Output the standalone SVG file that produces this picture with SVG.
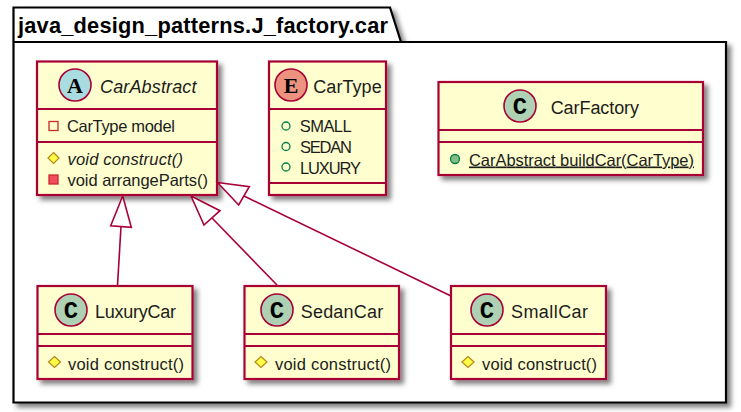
<svg xmlns="http://www.w3.org/2000/svg" width="741" height="412" viewBox="0 0 741 412">
<style>
text{font-family:"Liberation Sans",Arial,sans-serif;font-size:16.500px;fill:#1c1c1c}
.t{font-size:18px}
.box{fill:#fefece;stroke:#a80036;stroke-width:2.2;filter:url(#sh)}
.sep{stroke:#a80036;stroke-width:2;fill:none}
.circ{stroke:#a80036;stroke-width:1.6}
.glyph{font-family:"Liberation Mono",monospace;font-weight:bold;font-size:24px;fill:#000;text-anchor:middle}
.slab{font-family:"Liberation Serif",serif;font-size:22px}
.it{font-style:italic}
.con{stroke:#a80036;stroke-width:1.6;fill:none}
.head{stroke:#a80036;stroke-width:1.6;fill:#fff}
</style>
<defs>
<filter id="sh" x="-10%" y="-10%" width="125%" height="130%">
<feDropShadow dx="4" dy="4" stdDeviation="2.5" flood-color="#000" flood-opacity="0.5"/>
</filter>
</defs>
<rect width="741" height="412" fill="#fff"/>
<g id="package">
<path d="M13.500 42V7.500H390L401 42H726V402.500H13.500Z" fill="#fff" stroke="#000" stroke-width="2.2" filter="url(#sh)"/>
<path d="M13.500 42H401" stroke="#000" stroke-width="1.800" fill="none"/>
<text x="18" y="32.500" textLength="370" style="font-weight:bold;font-size:21.800px;fill:#000">java_design_patterns.J_factory.car</text>
</g>
<g id="CarAbstract">
<rect class="box" x="37" y="61.500" width="180" height="133.500"/>
<path class="sep" d="M37 109H217M37 142H217"/>
<circle class="circ" cx="75" cy="85" r="16" fill="#a9dcdf"/>
<text class="glyph slab" x="75" y="92.500">A</text>
<text class="it t" x="100" y="92.500" textLength="96.500">CarAbstract</text>
<rect x="49" y="121.500" width="9" height="9" fill="none" stroke="#c82930" stroke-width="1.300"/>
<text x="67" y="132.300" textLength="108">CarType model</text>
<path d="M53.500 152.500L59 158L53.500 163.500L48 158Z" fill="#ffff44" stroke="#b8861b" stroke-width="1.200"/>
<text class="it" x="67.500" y="165" textLength="115.500">void construct()</text>
<rect x="49" y="175" width="9" height="9" fill="#f24d5c" stroke="#c82930" stroke-width="1.300"/>
<text x="67.500" y="185.500" textLength="140.500">void arrangeParts()</text>
</g>
<g id="CarType">
<rect class="box" x="269" y="61.500" width="117" height="133.500"/>
<path class="sep" d="M269 109H386M269 183H386"/>
<circle class="circ" cx="291" cy="85" r="16" fill="#eb937f"/>
<text class="glyph slab" x="291" y="92.500">E</text>
<text class="t" x="313.300" y="92.500" textLength="68.400">CarType</text>
<circle cx="286" cy="126" r="4" fill="none" stroke="#038048" stroke-width="1.300"/>
<text x="299.700" y="132.300" textLength="52">SMALL</text>
<circle cx="286" cy="146.500" r="4" fill="none" stroke="#038048" stroke-width="1.300"/>
<text x="300" y="153" textLength="52">SEDAN</text>
<circle cx="286" cy="167" r="4" fill="none" stroke="#038048" stroke-width="1.300"/>
<text x="300" y="173.500" textLength="61">LUXURY</text>
</g>
<g id="CarFactory">
<rect class="box" x="438.500" y="82" width="264.500" height="93"/>
<path class="sep" d="M438.500 130H703M438.500 142H703"/>
<circle class="circ" cx="520" cy="106" r="16" fill="#add1b2"/>
<text class="glyph" x="520" y="113.500">C</text>
<text class="t" x="550.700" y="113.500" textLength="88.300">CarFactory</text>
<circle cx="455" cy="159" r="4.500" fill="#84be84" stroke="#038048" stroke-width="1.300"/>
<text x="469" y="165.500" textLength="225" text-decoration="underline">CarAbstract buildCar(CarType)</text>
</g>
<g id="LuxuryCar">
<rect class="box" x="37.500" y="286" width="155" height="93"/>
<path class="sep" d="M37.500 334H192.500M37.500 346H192.500"/>
<circle class="circ" cx="71" cy="310" r="16" fill="#add1b2"/>
<text class="glyph" x="71" y="317.500">C</text>
<text class="t" x="95" y="317.500" textLength="81">LuxuryCar</text>
<path d="M54.500 356.500L60.500 362L54.500 367.500L48.500 362Z" fill="#ffff44" stroke="#b8861b" stroke-width="1.200"/>
<text x="68" y="369.500" textLength="116">void construct()</text>
</g>
<g id="SedanCar">
<rect class="box" x="244.500" y="286" width="154.500" height="93"/>
<path class="sep" d="M244.500 334H399M244.500 346H399"/>
<circle class="circ" cx="277" cy="310" r="16" fill="#add1b2"/>
<text class="glyph" x="277" y="317.500">C</text>
<text class="t" x="300.700" y="317.500" textLength="82.500">SedanCar</text>
<path d="M261 356.500L267 362L261 367.500L255 362Z" fill="#ffff44" stroke="#b8861b" stroke-width="1.200"/>
<text x="275" y="369.500" textLength="116">void construct()</text>
</g>
<g id="SmallCar">
<rect class="box" x="451" y="286" width="155" height="93"/>
<path class="sep" d="M451 334H606M451 346H606"/>
<circle class="circ" cx="487" cy="310" r="16" fill="#add1b2"/>
<text class="glyph" x="487" y="317.500">C</text>
<text class="t" x="511" y="317.500" textLength="77">SmallCar</text>
<path d="M468 356.500L474 362L468 367.500L462 362Z" fill="#ffff44" stroke="#b8861b" stroke-width="1.200"/>
<text x="482" y="369.500" textLength="115">void construct()</text>
</g>
<g id="connectors">
<path class="con" d="M117.500 285.500L121 226.500"/>
<path class="head" d="M122.700 196L110.700 225.700L131.300 227.300Z"/>
<path class="con" d="M277 285L212 218"/>
<path class="head" d="M191 196L204 225L220 210.700Z"/>
<path class="con" d="M451 296L244 196"/>
<path class="head" d="M217.500 182.500L238.700 205L249.300 186.700Z"/>
</g>
</svg>
